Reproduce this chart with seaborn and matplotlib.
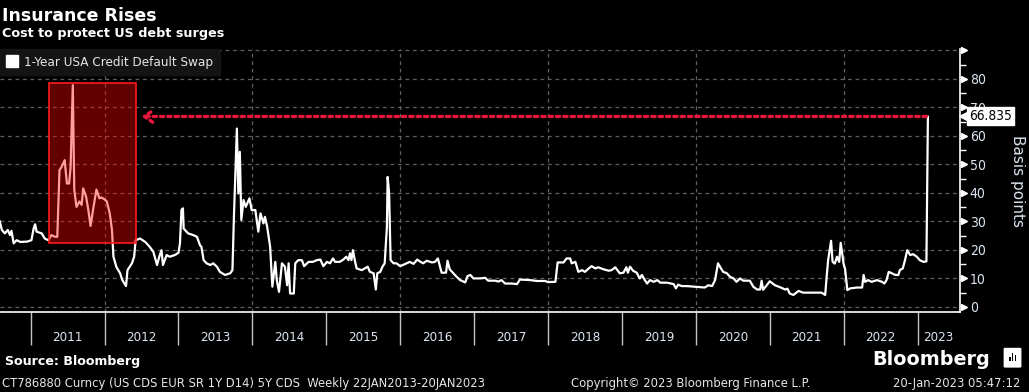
import matplotlib
matplotlib.use("Agg")
import matplotlib.pyplot as plt
import matplotlib.transforms as mtransforms
from matplotlib.lines import Line2D
from matplotlib.patches import Rectangle, FancyBboxPatch
import pandas as pd
import seaborn as sns

# weekly 1Y USA CDS (decimal year, basis points)
years = [
    2010.58, 2010.61, 2010.65, 2010.69, 2010.72, 2010.74, 2010.77, 2010.81, 2010.86, 2010.95,
    2011.01, 2011.04, 2011.06, 2011.08, 2011.15, 2011.19, 2011.24, 2011.28, 2011.33, 2011.36,
    2011.39, 2011.42, 2011.46, 2011.49, 2011.52, 2011.54, 2011.57, 2011.59, 2011.62, 2011.66,
    2011.69, 2011.71, 2011.75, 2011.78, 2011.81, 2011.85, 2011.89, 2011.93, 2011.96, 2012.01,
    2012.03, 2012.07, 2012.10, 2012.12, 2012.16, 2012.21, 2012.24, 2012.29, 2012.31, 2012.37,
    2012.40, 2012.42, 2012.48, 2012.55, 2012.61, 2012.66, 2012.71, 2012.74, 2012.77, 2012.79,
    2012.84, 2012.88, 2012.95, 2013.00, 2013.02, 2013.04, 2013.06, 2013.07, 2013.13, 2013.20,
    2013.25, 2013.29, 2013.31, 2013.34, 2013.38, 2013.43, 2013.47, 2013.52, 2013.56, 2013.63,
    2013.70, 2013.73, 2013.75, 2013.79, 2013.81, 2013.83, 2013.85, 2013.88, 2013.91, 2013.96,
    2013.99, 2014.04, 2014.08, 2014.11, 2014.15, 2014.17, 2014.20, 2014.24, 2014.27, 2014.31,
    2014.33, 2014.36, 2014.40, 2014.44, 2014.47, 2014.49, 2014.51, 2014.56, 2014.58, 2014.62,
    2014.67, 2014.70, 2014.76, 2014.82, 2014.87, 2014.92, 2014.96, 2015.01, 2015.05, 2015.09,
    2015.12, 2015.18, 2015.23, 2015.27, 2015.30, 2015.32, 2015.34, 2015.36, 2015.39, 2015.41,
    2015.48, 2015.52, 2015.56, 2015.59, 2015.64, 2015.67, 2015.69, 2015.73, 2015.76, 2015.79,
    2015.82, 2015.83, 2015.85, 2015.87, 2015.91, 2015.95, 2016.00, 2016.07, 2016.13, 2016.18,
    2016.23, 2016.27, 2016.31, 2016.36, 2016.43, 2016.47, 2016.51, 2016.56, 2016.62, 2016.64,
    2016.67, 2016.74, 2016.81, 2016.88, 2016.91, 2016.95, 2016.99, 2017.08, 2017.15, 2017.19,
    2017.28, 2017.33, 2017.37, 2017.42, 2017.51, 2017.58, 2017.62, 2017.76, 2017.85, 2017.96,
    2018.00, 2018.10, 2018.13, 2018.21, 2018.25, 2018.30, 2018.32, 2018.37, 2018.41, 2018.46,
    2018.50, 2018.55, 2018.59, 2018.64, 2018.68, 2018.75, 2018.82, 2018.86, 2018.91, 2018.97,
    2019.02, 2019.06, 2019.08, 2019.11, 2019.15, 2019.20, 2019.24, 2019.27, 2019.31, 2019.34,
    2019.38, 2019.43, 2019.48, 2019.52, 2019.61, 2019.70, 2019.73, 2019.76, 2019.81, 2019.88,
    2019.97, 2020.06, 2020.12, 2020.17, 2020.22, 2020.26, 2020.28, 2020.30, 2020.34, 2020.37,
    2020.42, 2020.46, 2020.51, 2020.55, 2020.60, 2020.64, 2020.73, 2020.78, 2020.83, 2020.87,
    2020.89, 2020.91, 2020.96, 2021.00, 2021.07, 2021.14, 2021.21, 2021.24, 2021.27, 2021.32,
    2021.39, 2021.45, 2021.59, 2021.70, 2021.75, 2021.77, 2021.79, 2021.83, 2021.85, 2021.88,
    2021.91, 2021.94, 2021.96, 2022.00, 2022.02, 2022.05, 2022.09, 2022.18, 2022.25, 2022.27,
    2022.29, 2022.33, 2022.38, 2022.45, 2022.52, 2022.55, 2022.58, 2022.61, 2022.65, 2022.70,
    2022.74, 2022.76, 2022.80, 2022.83, 2022.86, 2022.90, 2022.94, 2022.99, 2023.03, 2023.08,
    2023.12, 2023.14,
]
cds_bp = [
    30.2, 27.0, 25.8, 27.0, 25.2, 26.7, 22.3, 23.4, 22.8, 22.9,
    23.4, 27.5, 29.0, 26.4, 25.8, 24.0, 23.4, 25.2, 24.6, 24.6,
    48.0, 49.2, 51.5, 43.3, 43.3, 49.0, 77.8, 41.0, 35.1, 37.0,
    35.8, 41.6, 38.7, 34.0, 28.4, 35.0, 41.2, 38.1, 38.4, 37.5,
    37.0, 32.8, 27.0, 17.6, 14.0, 11.8, 9.4, 7.3, 12.9, 15.3,
    17.6, 23.4, 24.0, 22.8, 21.1, 19.3, 14.7, 17.6, 19.9, 14.7,
    18.2, 17.6, 18.2, 19.0, 22.3, 34.0, 34.6, 27.5, 25.8, 25.2,
    24.6, 21.7, 21.1, 16.4, 15.3, 14.7, 15.3, 14.1, 12.3, 11.2,
    11.8, 12.9, 31.6, 62.6, 39.8, 54.4, 30.5, 37.5, 35.1, 38.1,
    34.0, 34.0, 26.4, 32.8, 29.3, 31.6, 28.1, 21.1, 7.1, 15.8,
    9.4, 5.3, 15.3, 14.1, 7.6, 15.3, 4.7, 4.7, 15.3, 16.4,
    16.4, 14.3, 15.8, 15.8, 16.4, 16.6, 14.3, 15.8, 15.3, 17.0,
    15.8, 15.8, 16.6, 17.6, 16.4, 18.8, 16.4, 19.9, 15.8, 13.5,
    12.9, 13.5, 14.1, 12.3, 11.8, 6.1, 11.8, 12.3, 14.1, 15.3,
    28.1, 45.6, 39.8, 16.4, 15.3, 15.3, 14.3, 15.1, 15.8, 15.1,
    16.6, 15.9, 15.3, 16.2, 15.6, 15.8, 17.0, 12.0, 12.0, 16.2,
    13.2, 11.2, 9.4, 8.6, 10.8, 11.2, 10.0, 10.0, 10.2, 9.2,
    9.2, 8.9, 9.4, 8.2, 8.2, 8.0, 9.6, 9.4, 9.1, 9.1,
    8.7, 8.8, 15.6, 15.6, 17.0, 17.0, 15.3, 15.8, 12.3, 12.9,
    12.3, 13.5, 14.3, 13.5, 13.9, 13.2, 12.7, 12.9, 13.9, 11.8,
    12.0, 13.9, 12.0, 14.1, 12.7, 12.0, 10.0, 11.2, 9.4, 8.2,
    9.4, 8.8, 9.4, 8.5, 8.5, 8.0, 6.5, 7.8, 7.3, 7.3,
    7.1, 6.9, 6.8, 7.6, 7.3, 9.4, 12.3, 15.3, 13.5, 12.3,
    11.8, 10.6, 10.0, 8.8, 10.0, 9.2, 9.2, 7.0, 6.1, 6.1,
    9.2, 6.0, 7.6, 9.0, 7.6, 6.9, 6.1, 6.4, 4.7, 4.2,
    5.6, 5.0, 5.0, 5.0, 4.2, 10.6, 16.4, 23.2, 15.8, 15.2,
    17.6, 15.8, 22.5, 15.0, 13.2, 5.9, 6.5, 6.8, 6.8, 11.2,
    8.8, 9.4, 8.8, 9.4, 8.8, 8.2, 9.4, 12.3, 11.8, 11.2,
    11.2, 12.9, 13.5, 16.4, 19.9, 18.2, 18.5, 17.6, 16.4, 15.8,
    16.0, 66.835,
]
last_value = 66.835
series_label = "1-Year USA Credit Default Swap"
year_labels = list(range(2011, 2024))

# highlighted 2011 debt-ceiling episode (x0, x1, y0, y1)
box_x = (2011.25, 2012.43)
box_y = (22.3, 78.4)
arrow_tip_x = 2012.50

x_min, x_max = 2010.585, 2023.575
y_min, y_max = -1.8, 90.5

sns.set_theme(style="dark")
plt.rcParams["font.family"] = ["DejaVu Sans"]

BG = "black"
GRID = "#606060"
TICKC = "#dbe5f1"
FOOT = "#e6e6e6"
RED = "#e8163c"
COND = "condensed"

fig = plt.figure(figsize=(10.29, 3.92), dpi=100, facecolor=BG)
ax = fig.add_axes([0.0, 0.204, 0.933, 0.671])
ax.set_facecolor(BG)

df = pd.DataFrame({"year": years, "bp": cds_bp})
sns.lineplot(data=df, x="year", y="bp", ax=ax, color="white", lw=1.6, zorder=3, legend=False)

ax.set_xlim(x_min, x_max)
ax.set_ylim(y_min, y_max)
ax.set_xlabel("")

# dashed grid
for v in range(0, 100, 10):
    ax.axhline(v, color=GRID, ls=(0, (3, 3)), lw=0.9, zorder=1)
for yr in range(2012, 2024, 2):
    ax.axvline(yr, color=GRID, ls=(0, (3, 3)), lw=0.9, zorder=1)

for s in ["top", "left"]:
    ax.spines[s].set_visible(False)
ax.spines["bottom"].set_color("white")
ax.spines["right"].set_color("white")
ax.spines["bottom"].set_linewidth(1.2)
ax.spines["right"].set_linewidth(1.2)

# x axis: separators at year starts, labels centred on visible part of year
ax.set_xticks(year_labels)
ax.set_xticklabels([])
ax.tick_params(axis="x", which="both", bottom=True)
ax.tick_params(axis="x", which="major", length=24, width=1, color="#c4c4c4", direction="out")
mids = [(max(y, x_min) + min(y + 1, x_max)) / 2 for y in year_labels]
ax.set_xticks(mids, minor=True)
ax.set_xticklabels([str(y) for y in year_labels], minor=True, fontstretch=COND)
ax.tick_params(axis="x", which="minor", length=0, pad=14, labelsize=9.5, labelcolor=TICKC)

# y axis on the right
ax.yaxis.tick_right()
ax.tick_params(axis="y", which="both", right=True, left=False)
ax.set_yticks(range(0, 100, 10))
ax.set_yticklabels([str(v) if v < 90 else "" for v in range(0, 100, 10)], fontstretch=COND)
ax.set_yticks(range(5, 95, 10), minor=True)
ax.tick_params(axis="y", which="major", length=0, pad=7, labelsize=10, labelcolor=TICKC)
ax.tick_params(axis="y", which="minor", length=4, width=1, color="white", direction="out")
tri_tr = ax.get_yaxis_transform() + mtransforms.ScaledTranslation(3.5 / 100, 0, fig.dpi_scale_trans)
ax.plot([1] * 10, list(range(0, 100, 10)), ls="none", marker=">", ms=5, color="white",
        transform=tri_tr, clip_on=False, zorder=5)
ax.yaxis.set_label_position("right")
ax.set_ylabel("Basis points", rotation=270, color=TICKC, fontsize=11, labelpad=28)

# red highlight box
ax.add_patch(Rectangle((box_x[0], box_y[0]), box_x[1] - box_x[0], box_y[1] - box_y[0],
                       facecolor=(1, 0, 0, 0.38), edgecolor="#ff1a1a", lw=1.2, zorder=4))

# dotted arrow from latest value back to 2011 peak level
ax.annotate("", xy=(arrow_tip_x, last_value), xytext=(years[-1] - 0.02, last_value),
            arrowprops=dict(arrowstyle="->,head_length=0.5,head_width=0.35", color=RED,
                            lw=2.4, ls=(0, (1, 1.2)), shrinkA=0, shrinkB=0), zorder=4)

# last value tag
val_tr = ax.get_yaxis_transform() + mtransforms.ScaledTranslation(5 / 100, 0, fig.dpi_scale_trans)
ax.plot([1], [last_value], ls="none", marker="<", ms=8, color="white", transform=val_tr,
        clip_on=False, zorder=6)
ax.text(1, last_value, f"{last_value:.3f}", transform=ax.get_yaxis_transform() +
        mtransforms.ScaledTranslation(9 / 100, 0, fig.dpi_scale_trans),
        ha="left", va="center", fontsize=9.8, color="black", fontstretch=COND,
        bbox=dict(boxstyle="square,pad=0.15", fc="white", ec="white"), zorder=7, clip_on=False)

# legend
handle = Line2D([], [], marker="s", color="white", ls="none", ms=8)
leg = ax.legend([handle], [series_label], loc="upper left", bbox_to_anchor=(0, 1),
                borderaxespad=0, frameon=True, fancybox=False,
                prop={"stretch": COND, "size": 9.6},
                handlelength=0.8, handletextpad=0.5, borderpad=0.5, labelcolor=FOOT)
leg.get_frame().set_facecolor("#161616")
leg.get_frame().set_edgecolor("#161616")
leg.get_frame().set_alpha(0.92)

# titles and footer
fig.text(0.002, 0.947, "Insurance Rises", color="white", fontsize=12.5, fontweight="bold")
fig.text(0.002, 0.906, "Cost to protect US debt surges", color="white", fontsize=9.2, fontweight="bold")
fig.text(0.005, 0.069, "Source: Bloomberg", color="white", fontsize=9.1, fontweight="bold")
fig.text(0.002, 0.013, "CT786880 Curncy (US CDS EUR SR 1Y D14) 5Y CDS  Weekly 22JAN2013-20JAN2023",
         color=FOOT, fontsize=9.3, fontstretch=COND)
fig.text(0.671, 0.013, "Copyright\u00a9 2023 Bloomberg Finance L.P.", color=FOOT,
         fontsize=9.3, ha="center", fontstretch=COND)
fig.text(0.992, 0.013, "20-Jan-2023 05:47:12", color=FOOT, fontsize=9.3, ha="right",
         fontstretch=COND)
fig.text(0.962, 0.069, "Bloomberg", color="white", fontsize=13.8, fontweight="bold", ha="right")
fig.patches.append(FancyBboxPatch((0.977, 0.065), 0.014, 0.045, boxstyle="round,pad=0.001",
                                  transform=fig.transFigure, fc="white", ec="white"))
for i, h in enumerate([0.012, 0.022, 0.016]):
    fig.patches.append(Rectangle((0.9805 + i * 0.0028, 0.078), 0.0016, h,
                                 transform=fig.transFigure, fc="black", ec="none"))

fig.savefig("out.png", dpi=100, facecolor=BG)
